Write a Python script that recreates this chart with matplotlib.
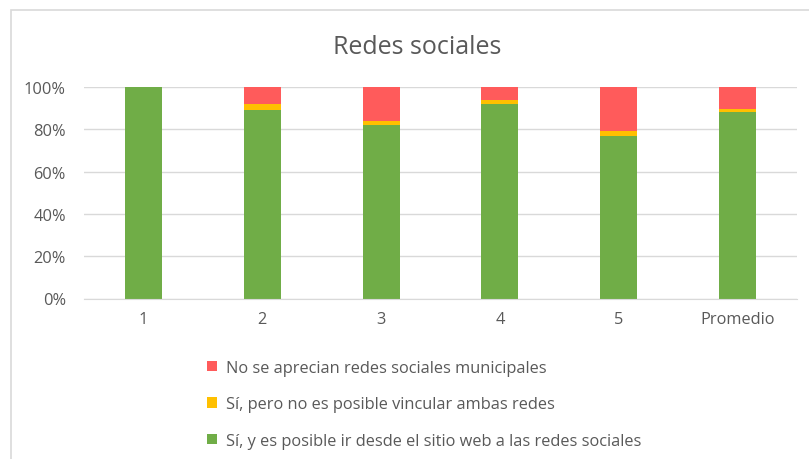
import matplotlib.pyplot as plt
from matplotlib.patches import Rectangle
import numpy as np

categories = ["1", "2", "3", "4", "5", "Promedio"]
si_vincula = [100, 89, 82, 92, 77, 88]
si_no_vincula = [0, 3, 2, 2, 2, 1.5]
no_aprecian = [0, 8, 16, 6, 21, 10.5]

green = "#70AD47"
yellow = "#FFC000"
red = "#FF5B5B"
text_col = "#595959"

plt.rcParams['font.family'] = ['Open Sans', 'DejaVu Sans']

fig = plt.figure(figsize=(8.09, 4.60), dpi=100)
ax = fig.add_axes([84 / 809, 1 - 299.5 / 460, 713 / 809, 211.5 / 460])

x = np.arange(len(categories))
w = 0.31
b1 = ax.bar(x, si_vincula, w, color=green, label="Sí, y es posible ir desde el sitio web a las redes sociales")
b2 = ax.bar(x, si_no_vincula, w, bottom=si_vincula, color=yellow,
            label="Sí, pero no es posible vincular ambas redes")
bottom3 = np.array(si_vincula) + np.array(si_no_vincula)
b3 = ax.bar(x, no_aprecian, w, bottom=bottom3, color=red,
            label="No se aprecian redes sociales municipales")

ax.set_xlim(-0.5, len(categories) - 0.5)
ax.set_ylim(0, 100)
ax.set_yticks(range(0, 101, 20))
ax.set_yticklabels([f"{v}%" for v in range(0, 101, 20)])
ax.set_xticks(x)
ax.set_xticklabels(categories)
ax.yaxis.grid(True, color="#D9D9D9", linewidth=1)
ax.set_axisbelow(True)
for s in ["top", "right", "left"]:
    ax.spines[s].set_visible(False)
ax.spines["bottom"].set_color("#D9D9D9")
ax.tick_params(axis="both", length=0, colors=text_col, labelsize=11.8)
ax.tick_params(axis="y", pad=13)
ax.tick_params(axis="x", pad=9)

fig.text(417 / 809, 1 - 47 / 460, "Redes sociales", ha="center", va="center",
         fontsize=18, color=text_col)

fig.legend(handles=[b3, b2, b1], loc="upper left", bbox_to_anchor=(192 / 809, 1 - 346 / 460),
           frameon=False, fontsize=11.8, labelcolor=text_col, handlelength=0.6,
           handleheight=0.6, handletextpad=0.55, labelspacing=1.25)

fig.patches.append(Rectangle((11 / 809, -0.1), 1.2, (1 - 11 / 460) + 0.1, transform=fig.transFigure,
                             fill=False, edgecolor="#D9D9D9", linewidth=1.2))

fig.savefig("out.png", dpi=100)
